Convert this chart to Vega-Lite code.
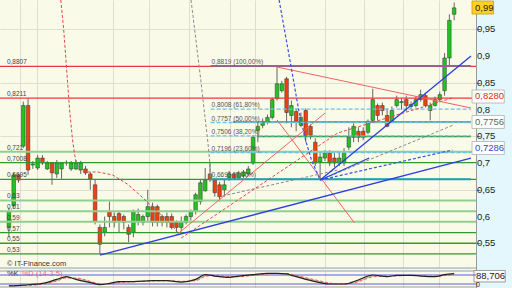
{
 "$schema": "https://vega.github.io/schema/vega-lite/v6.json",
 "width": 476, "height": 288,
 "autosize": {"type": "none"},
 "padding": {"left": 0, "top": 0, "right": 36, "bottom": 0},
 "background": "#e4f7fd",
 "config": {"view": {"fill": "#fafae8", "stroke": null}, "font": "Liberation Sans", "text": {"font": "Liberation Sans"}},
 "datasets": {
  "candles": [
   {"t":0,"o":0.5796,"h":0.6167,"l":0.561,"c":0.6093},
   {"t":1,"o":0.6204,"h":0.6815,"l":0.6167,"c":0.6778},
   {"t":2,"o":0.6778,"h":0.68,"l":0.663,"c":0.668},
   {"t":3,"o":0.7315,"h":0.8148,"l":0.7278,"c":0.8074},
   {"t":4,"o":0.8074,"h":0.8204,"l":0.6778,"c":0.687},
   {"t":5,"o":0.6963,"h":0.7037,"l":0.6889,"c":0.6981},
   {"t":6,"o":0.6907,"h":0.7148,"l":0.687,"c":0.7093},
   {"t":7,"o":0.7093,"h":0.7148,"l":0.6963,"c":0.70},
   {"t":8,"o":0.6889,"h":0.7037,"l":0.687,"c":0.70},
   {"t":9,"o":0.70,"h":0.7019,"l":0.6593,"c":0.6815},
   {"t":10,"o":0.6796,"h":0.7056,"l":0.6722,"c":0.70},
   {"t":11,"o":0.6889,"h":0.7019,"l":0.6704,"c":0.70},
   {"t":12,"o":0.70,"h":0.705,"l":0.695,"c":0.701},
   {"t":13,"o":0.6889,"h":0.7037,"l":0.6852,"c":0.70},
   {"t":14,"o":0.6889,"h":0.7056,"l":0.687,"c":0.70},
   {"t":15,"o":0.687,"h":0.704,"l":0.6796,"c":0.70},
   {"t":16,"o":0.6889,"h":0.6944,"l":0.6778,"c":0.6815},
   {"t":17,"o":0.6796,"h":0.6833,"l":0.65,"c":0.6704},
   {"t":18,"o":0.6593,"h":0.6685,"l":0.5852,"c":0.5907},
   {"t":19,"o":0.5796,"h":0.5852,"l":0.5296,"c":0.5481},
   {"t":20,"o":0.5704,"h":0.60,"l":0.563,"c":0.5796},
   {"t":21,"o":0.6093,"h":0.6278,"l":0.5796,"c":0.60},
   {"t":22,"o":0.60,"h":0.6074,"l":0.5796,"c":0.5889},
   {"t":23,"o":0.6056,"h":0.6093,"l":0.5704,"c":0.5926},
   {"t":24,"o":0.60,"h":0.6037,"l":0.5759,"c":0.5889},
   {"t":25,"o":0.5796,"h":0.5852,"l":0.5519,"c":0.5667},
   {"t":26,"o":0.5704,"h":0.613,"l":0.5611,"c":0.6093},
   {"t":27,"o":0.5907,"h":0.6148,"l":0.5833,"c":0.6037},
   {"t":28,"o":0.5889,"h":0.6037,"l":0.5833,"c":0.60},
   {"t":29,"o":0.60,"h":0.65,"l":0.5907,"c":0.6185},
   {"t":30,"o":0.6185,"h":0.6259,"l":0.5815,"c":0.5889},
   {"t":31,"o":0.6185,"h":0.6222,"l":0.5815,"c":0.5889},
   {"t":32,"o":0.60,"h":0.6037,"l":0.5815,"c":0.5889},
   {"t":33,"o":0.60,"h":0.6074,"l":0.5796,"c":0.5889},
   {"t":34,"o":0.60,"h":0.6056,"l":0.5759,"c":0.5796},
   {"t":35,"o":0.5889,"h":0.5926,"l":0.5704,"c":0.5796},
   {"t":36,"o":0.5796,"h":0.60,"l":0.5722,"c":0.5889},
   {"t":37,"o":0.5889,"h":0.6037,"l":0.5852,"c":0.60},
   {"t":38,"o":0.60,"h":0.613,"l":0.5926,"c":0.6093},
   {"t":39,"o":0.6093,"h":0.6444,"l":0.6037,"c":0.6407},
   {"t":40,"o":0.6278,"h":0.6685,"l":0.6222,"c":0.663},
   {"t":41,"o":0.6481,"h":0.6907,"l":0.6463,"c":0.6685},
   {"t":42,"o":0.6796,"h":0.70,"l":0.6648,"c":0.6685},
   {"t":43,"o":0.6685,"h":0.6722,"l":0.637,"c":0.6444},
   {"t":44,"o":0.6593,"h":0.6648,"l":0.6278,"c":0.637},
   {"t":45,"o":0.65,"h":0.6685,"l":0.637,"c":0.6593},
   {"t":46,"o":0.6722,"h":0.6852,"l":0.6667,"c":0.6796},
   {"t":47,"o":0.6796,"h":0.6833,"l":0.6685,"c":0.6722},
   {"t":48,"o":0.6722,"h":0.6852,"l":0.6704,"c":0.6815},
   {"t":49,"o":0.6759,"h":0.687,"l":0.6722,"c":0.6833},
   {"t":50,"o":0.6796,"h":0.6944,"l":0.6759,"c":0.6889},
   {"t":51,"o":0.70,"h":0.7519,"l":0.6963,"c":0.7481},
   {"t":52,"o":0.7611,"h":0.7759,"l":0.7389,"c":0.7685},
   {"t":53,"o":0.7704,"h":0.7833,"l":0.7648,"c":0.7778},
   {"t":54,"o":0.7759,"h":0.7907,"l":0.7722,"c":0.7852},
   {"t":55,"o":0.7852,"h":0.8222,"l":0.7815,"c":0.8185},
   {"t":56,"o":0.8204,"h":0.8819,"l":0.8167,"c":0.8481},
   {"t":57,"o":0.8352,"h":0.8537,"l":0.8315,"c":0.8481},
   {"t":58,"o":0.8574,"h":0.8611,"l":0.7741,"c":0.7944},
   {"t":59,"o":0.7889,"h":0.8167,"l":0.7667,"c":0.8074},
   {"t":60,"o":0.7963,"h":0.8019,"l":0.7593,"c":0.7778},
   {"t":61,"o":0.7704,"h":0.7944,"l":0.7667,"c":0.7852},
   {"t":62,"o":0.7981,"h":0.8019,"l":0.7389,"c":0.75},
   {"t":63,"o":0.7685,"h":0.7722,"l":0.7444,"c":0.7519},
   {"t":64,"o":0.7389,"h":0.7463,"l":0.6944,"c":0.70},
   {"t":65,"o":0.7019,"h":0.7185,"l":0.6695,"c":0.7111},
   {"t":66,"o":0.7093,"h":0.7241,"l":0.7037,"c":0.7185},
   {"t":67,"o":0.7185,"h":0.7241,"l":0.6944,"c":0.70},
   {"t":68,"o":0.7093,"h":0.7185,"l":0.6926,"c":0.70},
   {"t":69,"o":0.70,"h":0.7204,"l":0.6944,"c":0.7093},
   {"t":70,"o":0.70,"h":0.7278,"l":0.6944,"c":0.7185},
   {"t":71,"o":0.7296,"h":0.7667,"l":0.7241,"c":0.7481},
   {"t":72,"o":0.7481,"h":0.7741,"l":0.7389,"c":0.7685},
   {"t":73,"o":0.7593,"h":0.7667,"l":0.7389,"c":0.7481},
   {"t":74,"o":0.7593,"h":0.7667,"l":0.7426,"c":0.7481},
   {"t":75,"o":0.7574,"h":0.7815,"l":0.7537,"c":0.7778},
   {"t":76,"o":0.7796,"h":0.8389,"l":0.7759,"c":0.8185},
   {"t":77,"o":0.8074,"h":0.8111,"l":0.7796,"c":0.7889},
   {"t":78,"o":0.8074,"h":0.813,"l":0.7889,"c":0.7981},
   {"t":79,"o":0.7889,"h":0.8019,"l":0.7667,"c":0.7685},
   {"t":80,"o":0.7778,"h":0.8056,"l":0.7759,"c":0.7981},
   {"t":81,"o":0.8074,"h":0.8259,"l":0.8037,"c":0.8185},
   {"t":82,"o":0.813,"h":0.8204,"l":0.80,"c":0.8148},
   {"t":83,"o":0.8185,"h":0.8259,"l":0.7963,"c":0.8074},
   {"t":84,"o":0.8056,"h":0.815,"l":0.80,"c":0.8093},
   {"t":85,"o":0.8074,"h":0.8241,"l":0.8037,"c":0.8185},
   {"t":86,"o":0.8185,"h":0.837,"l":0.8148,"c":0.8278},
   {"t":87,"o":0.8259,"h":0.8315,"l":0.8037,"c":0.8074},
   {"t":88,"o":0.7981,"h":0.813,"l":0.7796,"c":0.8074},
   {"t":89,"o":0.8074,"h":0.8241,"l":0.8056,"c":0.8185},
   {"t":90,"o":0.8185,"h":0.8333,"l":0.8148,"c":0.8278},
   {"t":91,"o":0.8352,"h":0.9056,"l":0.8259,"c":0.8963},
   {"t":92,"o":0.8963,"h":0.9778,"l":0.8815,"c":0.9667},
   {"t":93,"o":0.978,"h":1.0,"l":0.9667,"c":0.99}
  ],
  "blueSolid": [
   {"id":1,"t":19.02,"v":0.528},{"id":1,"t":96.52,"v":0.7093},
   {"id":2,"t":65.03,"v":0.6682},{"id":2,"t":96.52,"v":0.90},
   {"id":3,"t":65.03,"v":0.6682},{"id":3,"t":75.26,"v":0.7093}
  ],
  "blueDash": [
   {"id":4,"t":65.03,"v":0.6682},{"id":4,"t":92.64,"v":0.7243},
   {"id":13,"t":56.44,"v":1.0047},{"id":13,"t":58.69,"v":0.8925},{"id":13,"t":60.53,"v":0.7991},{"id":13,"t":61.96,"v":0.743},{"id":13,"t":63.19,"v":0.7056},{"id":13,"t":65.03,"v":0.6682}
  ],
  "grayDash": [
   {"id":5,"t":65.03,"v":0.6682},{"id":5,"t":92.84,"v":0.771},
   {"id":6,"t":44.58,"v":0.6383},{"id":6,"t":68.71,"v":0.6869},
   {"id":12,"t":38.04,"v":1.0047},{"id":12,"t":39.06,"v":0.9299},{"id":12,"t":40.08,"v":0.8551},{"id":12,"t":40.9,"v":0.7897},{"id":12,"t":41.51,"v":0.743},{"id":12,"t":41.92,"v":0.7056},{"id":12,"t":42.13,"v":0.6682}
  ],
  "redSolid": [
   {"id":7,"t":56.03,"v":0.8794},{"id":7,"t":96.52,"v":0.8028},
   {"id":8,"t":34.97,"v":0.5654},{"id":8,"t":66.05,"v":0.7934},
   {"id":9,"t":56.03,"v":0.7804},{"id":9,"t":72.19,"v":0.5879}
  ],
  "redDash": [
   {"id":10,"t":35.99,"v":0.5598},{"id":10,"t":68.71,"v":0.7561},{"id":10,"t":92.64,"v":0.8215},
   {"id":11,"t":10.84,"v":1.0047},{"id":11,"t":11.45,"v":0.9486},{"id":11,"t":12.07,"v":0.8738},{"id":11,"t":12.68,"v":0.7991},{"id":11,"t":13.29,"v":0.743},{"id":11,"t":13.91,"v":0.7056},{"id":11,"t":14.72,"v":0.6869},{"id":11,"t":15.95,"v":0.6832},{"id":11,"t":18.61,"v":0.6832},{"id":11,"t":21.68,"v":0.6776},{"id":11,"t":24.74,"v":0.6607},{"id":11,"t":27.81,"v":0.6364},{"id":11,"t":30.88,"v":0.6103},{"id":11,"t":33.33,"v":0.5916},{"id":11,"t":35.17,"v":0.571}
  ],
  "hRed": [{"v":0.8807},{"v":0.8211}],
  "hGreenDark": [{"v":0.7008},{"v":0.6695},{"v":0.57},{"v":0.55},{"v":0.53}],
  "hGreenLight": [{"v":0.721},{"v":0.63},{"v":0.61},{"v":0.59}],
  "hGreenPart": [{"t":46.83,"t2":96.52,"v":0.7766},{"t":51.94,"t2":96.52,"v":0.7495}],
  "fibBlue": [{"t":42.13,"t2":96.52,"v":0.8819}],
  "fibDash": [{"t":42.13,"t2":96.52,"v":0.8008},{"t":42.13,"t2":96.52,"v":0.7757},{"t":42.13,"t2":96.52,"v":0.7506},{"t":42.13,"t2":96.52,"v":0.7196}],
  "fibTeal": [{"t":42.13,"t2":96.52,"v":0.6695}],
  "axisLabels": [
   {"t":97.75,"v":0.95,"label":"0,95"},{"t":97.75,"v":0.9,"label":"0,9"},
   {"t":97.75,"v":0.85,"label":"0,85"},{"t":97.75,"v":0.8,"label":"0,8"},
   {"t":97.75,"v":0.75,"label":"0,75"},{"t":97.75,"v":0.7,"label":"0,7"},
   {"t":97.75,"v":0.65,"label":"0,65"},{"t":97.75,"v":0.6,"label":"0,6"},
   {"t":97.75,"v":0.55,"label":"0,55"}
  ],
  "leftLabels": [
   {"t":-0.41,"v":0.8807,"label":"0,8807"},{"t":-0.41,"v":0.8211,"label":"0,8211"},
   {"t":-0.41,"v":0.721,"label":"0,721"},{"t":-0.41,"v":0.7008,"label":"0,7008"},
   {"t":-0.41,"v":0.6695,"label":"0,6695"},{"t":-0.41,"v":0.63,"label":"0,63"},
   {"t":-0.41,"v":0.61,"label":"0,61"},{"t":-0.41,"v":0.59,"label":"0,59"},
   {"t":-0.41,"v":0.57,"label":"0,57"},{"t":-0.41,"v":0.55,"label":"0,55"},
   {"t":-0.41,"v":0.53,"label":"0,53"}
  ],
  "fibLabels": [
   {"t":42.33,"v":0.8819,"label":"0,8819 (100,00%)"},
   {"t":42.33,"v":0.8008,"label":"0,8008 (61,80%)"},
   {"t":42.33,"v":0.7757,"label":"0,7757 (50,00%)"},
   {"t":42.33,"v":0.7506,"label":"0,7506 (38,20%)"},
   {"t":42.33,"v":0.7196,"label":"0,7196 (23,60%)"},
   {"t":42.33,"v":0.6695,"label":"0,6695 (0,00%)"}
  ],
  "gap": [{"t":-0.818,"t2":96.52,"v":0.5037,"v2":0.4981}],
  "borders": [{"v":0.5037},{"v":0.4981},{"v":0.4682}],
  "stoch": [
   {"t":0,"k":7,"d":10},{"t":3,"k":13,"d":10},{"t":7,"k":24,"d":18},{"t":10,"k":51,"d":40},
   {"t":12,"k":69,"d":60},{"t":14,"k":51,"d":60},{"t":17,"k":29,"d":38},{"t":19,"k":16,"d":22},
   {"t":21,"k":24,"d":20},{"t":23,"k":36,"d":30},{"t":26,"k":36,"d":35},{"t":30,"k":42,"d":40},
   {"t":33,"k":42,"d":42},{"t":36,"k":33,"d":38},{"t":39,"k":51,"d":42},{"t":41,"k":82,"d":70},
   {"t":43,"k":73,"d":78},{"t":46,"k":64,"d":70},{"t":48,"k":73,"d":68},{"t":51,"k":82,"d":78},
   {"t":54,"k":91,"d":87},{"t":56,"k":91,"d":90},{"t":58,"k":87,"d":90},{"t":59,"k":78,"d":85},
   {"t":62,"k":51,"d":62},{"t":65,"k":29,"d":40},{"t":67,"k":20,"d":26},{"t":70,"k":20,"d":20},
   {"t":73,"k":47,"d":35},{"t":76,"k":80,"d":68},{"t":79,"k":69,"d":74},{"t":81,"k":78,"d":74},
   {"t":84,"k":78,"d":78},{"t":86,"k":73,"d":76},{"t":89,"k":69,"d":72},{"t":91,"k":82,"d":76},
   {"t":93,"k":89,"d":85}
  ],
  "stochLevels": [{"k":20},{"k":80}]
 },
 "layer": [
  {
   "layer": [
    {
     "data": {"name": "candles"},
     "mark": {"type": "rule", "color": "#666666", "strokeWidth": 1},
     "encoding": {
      "x": {"field": "t", "type": "quantitative", "title": null,
            "scale": {"domain": [-0.818, 96.52], "nice": false, "zero": false},
            "axis": {"orient": "bottom", "labels": false, "ticks": false, "domain": false, "grid": true,
                     "gridColor": "#dedfd2", "gridWidth": 1,
                     "values": [2.25,3.27,5.93,14.11,21.68,22.7,29.24,30.27,37.63,42.13,46.22,50.1,51.33,58.08,66.05,68.1,74.23,78.32,82.41,86.71,89.78,91.21]}},
      "y": {"field": "l", "type": "quantitative", "title": null,
            "scale": {"domain": [0.46636, 1.00467], "nice": false, "zero": false},
            "axis": {"orient": "right", "values": [0.55,0.6,0.65,0.7,0.75,0.8,0.85,0.9,0.95],
                     "labels": false,
                     "grid": true, "gridColor": "#dedfd2", "domain": true, "domainColor": "#9a9a9a",
                     "ticks": true, "tickSize": 4, "tickColor": "#777777"}},
      "y2": {"field": "h"}
     }
    },
    {
     "data": {"name": "candles"},
     "mark": {"type": "bar", "width": 3.6, "stroke": "#333333", "strokeWidth": 0.5},
     "encoding": {
      "x": {"field": "t", "type": "quantitative", "title": null},
      "y": {"field": "o", "type": "quantitative", "title": null},
      "y2": {"field": "c"},
      "color": {"condition": {"test": "datum.c >= datum.o", "value": "#22c322"}, "value": "#f0400e"}
     }
    },
    {
     "data": {"name": "gap"},
     "mark": {"type": "rect", "color": "#e4f7fd"},
     "encoding": {
      "x": {"field": "t", "type": "quantitative", "title": null}, "x2": {"field": "t2"},
      "y": {"field": "v", "type": "quantitative", "title": null}, "y2": {"field": "v2"}
     }
    },
    {
     "data": {"name": "borders"},
     "mark": {"type": "rule", "color": "#a0a0a0", "strokeWidth": 1},
     "encoding": {"y": {"field": "v", "type": "quantitative", "title": null}}
    },
    {
     "data": {"name": "hGreenLight"},
     "mark": {"type": "rule", "color": "#8fd08f", "strokeWidth": 2},
     "encoding": {"y": {"field": "v", "type": "quantitative", "title": null}}
    },
    {
     "data": {"name": "hGreenDark"},
     "mark": {"type": "rule", "color": "#2f9a2f", "strokeWidth": 1.3},
     "encoding": {"y": {"field": "v", "type": "quantitative", "title": null}}
    },
    {
     "data": {"name": "hGreenPart"},
     "mark": {"type": "rule", "color": "#3a9a3a", "strokeWidth": 1.5},
     "encoding": {
      "x": {"field": "t", "type": "quantitative", "title": null}, "x2": {"field": "t2"},
      "y": {"field": "v", "type": "quantitative", "title": null}
     }
    },
    {
     "data": {"name": "hRed"},
     "mark": {"type": "rule", "color": "#e83a3a", "strokeWidth": 1.3},
     "encoding": {"y": {"field": "v", "type": "quantitative", "title": null}}
    },
    {
     "data": {"name": "fibTeal"},
     "mark": {"type": "rule", "color": "#1e9fb5", "strokeWidth": 2},
     "encoding": {
      "x": {"field": "t", "type": "quantitative", "title": null}, "x2": {"field": "t2"},
      "y": {"field": "v", "type": "quantitative", "title": null}
     }
    },
    {
     "data": {"name": "fibDash"},
     "mark": {"type": "rule", "color": "#66c4ee", "strokeWidth": 1.3, "strokeDash": [4, 2]},
     "encoding": {
      "x": {"field": "t", "type": "quantitative", "title": null}, "x2": {"field": "t2"},
      "y": {"field": "v", "type": "quantitative", "title": null}
     }
    },
    {
     "data": {"name": "fibBlue"},
     "mark": {"type": "rule", "color": "#4a80d8", "strokeWidth": 1.5},
     "encoding": {
      "x": {"field": "t", "type": "quantitative", "title": null}, "x2": {"field": "t2"},
      "y": {"field": "v", "type": "quantitative", "title": null}
     }
    },
    {
     "data": {"name": "grayDash"},
     "mark": {"type": "line", "color": "#8a8a8a", "strokeWidth": 1, "strokeDash": [3, 2], "clip": true},
     "encoding": {
      "x": {"field": "t", "type": "quantitative", "title": null},
      "y": {"field": "v", "type": "quantitative", "title": null},
      "detail": {"field": "id", "type": "nominal"}
     }
    },
    {
     "data": {"name": "redDash"},
     "mark": {"type": "line", "color": "#e04848", "strokeWidth": 1, "strokeDash": [3, 2], "clip": true},
     "encoding": {
      "x": {"field": "t", "type": "quantitative", "title": null},
      "y": {"field": "v", "type": "quantitative", "title": null},
      "detail": {"field": "id", "type": "nominal"}
     }
    },
    {
     "data": {"name": "redSolid"},
     "mark": {"type": "line", "color": "#f06262", "strokeWidth": 1},
     "encoding": {
      "x": {"field": "t", "type": "quantitative", "title": null},
      "y": {"field": "v", "type": "quantitative", "title": null},
      "detail": {"field": "id", "type": "nominal"}
     }
    },
    {
     "data": {"name": "blueDash"},
     "mark": {"type": "line", "color": "#3a52e0", "strokeWidth": 1.2, "strokeDash": [3, 2], "clip": true},
     "encoding": {
      "x": {"field": "t", "type": "quantitative", "title": null},
      "y": {"field": "v", "type": "quantitative", "title": null},
      "detail": {"field": "id", "type": "nominal"}
     }
    },
    {
     "data": {"name": "blueSolid"},
     "mark": {"type": "line", "color": "#2c3ee0", "strokeWidth": 1.3},
     "encoding": {
      "x": {"field": "t", "type": "quantitative", "title": null},
      "y": {"field": "v", "type": "quantitative", "title": null},
      "detail": {"field": "id", "type": "nominal"}
     }
    },
    {
     "data": {"name": "axisLabels"},
     "mark": {"type": "text", "align": "left", "baseline": "middle", "fontSize": 9.5, "color": "#222222"},
     "encoding": {
      "x": {"field": "t", "type": "quantitative", "title": null},
      "y": {"field": "v", "type": "quantitative", "title": null},
      "text": {"field": "label"}
     }
    },
    {
     "data": {"name": "leftLabels"},
     "mark": {"type": "text", "align": "left", "baseline": "bottom", "dy": -1, "fontSize": 6.5, "color": "#444444"},
     "encoding": {
      "x": {"field": "t", "type": "quantitative", "title": null},
      "y": {"field": "v", "type": "quantitative", "title": null},
      "text": {"field": "label"}
     }
    },
    {
     "data": {"name": "fibLabels"},
     "mark": {"type": "text", "align": "left", "baseline": "bottom", "dy": -1, "fontSize": 6.5, "color": "#555555"},
     "encoding": {
      "x": {"field": "t", "type": "quantitative", "title": null},
      "y": {"field": "v", "type": "quantitative", "title": null},
      "text": {"field": "label"}
     }
    },
    {
     "data": {"values": [
      {"t":96.73,"t2":101.23,"v":1.0028,"v2":0.9785}
     ]},
     "mark": {"type": "rect", "fill": "#ffd21f", "stroke": "#c8a000", "strokeWidth": 0.8},
     "encoding": {
      "x": {"field": "t", "type": "quantitative", "title": null}, "x2": {"field": "t2"},
      "y": {"field": "v", "type": "quantitative", "title": null}, "y2": {"field": "v2"}
     }
    },
    {
     "data": {"values": [
      {"t":96.73,"t2":103.48,"v":0.8364,"v2":0.8121},
      {"t":96.73,"t2":103.48,"v":0.7888,"v2":0.7645},
      {"t":96.73,"t2":103.48,"v":0.7402,"v2":0.7159}
     ]},
     "mark": {"type": "rect", "fill": "#ffffff", "stroke": "#b0b0b0", "strokeWidth": 0.8},
     "encoding": {
      "x": {"field": "t", "type": "quantitative", "title": null}, "x2": {"field": "t2"},
      "y": {"field": "v", "type": "quantitative", "title": null}, "y2": {"field": "v2"}
     }
    },
    {
     "data": {"values": [
      {"t":97.14,"t2":103.68,"v":0.4991,"v2":0.4776}
     ]},
     "mark": {"type": "rect", "fill": "#fafafa", "stroke": "#888888", "strokeWidth": 0.8},
     "encoding": {
      "x": {"field": "t", "type": "quantitative", "title": null}, "x2": {"field": "t2"},
      "y": {"field": "v", "type": "quantitative", "title": null}, "y2": {"field": "v2"}
     }
    },
    {
     "data": {"values": [{"t":97.35,"v":0.9905,"label":"0,99"}]},
     "mark": {"type": "text", "align": "left", "baseline": "middle", "fontSize": 9.5, "color": "#222222"},
     "encoding": {"x": {"field": "t", "type": "quantitative", "title": null}, "y": {"field": "v", "type": "quantitative", "title": null}, "text": {"field": "label"}}
    },
    {
     "data": {"values": [{"t":97.35,"v":0.8243,"label":"0,8280"}]},
     "mark": {"type": "text", "align": "left", "baseline": "middle", "fontSize": 9.5, "color": "#e02828"},
     "encoding": {"x": {"field": "t", "type": "quantitative", "title": null}, "y": {"field": "v", "type": "quantitative", "title": null}, "text": {"field": "label"}}
    },
    {
     "data": {"values": [{"t":97.35,"v":0.7766,"label":"0,7756"}]},
     "mark": {"type": "text", "align": "left", "baseline": "middle", "fontSize": 9.5, "color": "#666666"},
     "encoding": {"x": {"field": "t", "type": "quantitative", "title": null}, "y": {"field": "v", "type": "quantitative", "title": null}, "text": {"field": "label"}}
    },
    {
     "data": {"values": [{"t":97.35,"v":0.728,"label":"0,7286"}]},
     "mark": {"type": "text", "align": "left", "baseline": "middle", "fontSize": 9.5, "color": "#2a4ad0"},
     "encoding": {"x": {"field": "t", "type": "quantitative", "title": null}, "y": {"field": "v", "type": "quantitative", "title": null}, "text": {"field": "label"}}
    },
    {
     "data": {"values": [{"t":97.55,"v":0.4884,"label":"88,706"}]},
     "mark": {"type": "text", "align": "left", "baseline": "middle", "fontSize": 9.5, "color": "#222222"},
     "encoding": {"x": {"field": "t", "type": "quantitative", "title": null}, "y": {"field": "v", "type": "quantitative", "title": null}, "text": {"field": "label"}}
    },
    {
     "data": {"values": [{"t":97.55,"v":0.4728,"label":"0"}]},
     "mark": {"type": "text", "align": "left", "baseline": "middle", "fontSize": 7, "color": "#222222"},
     "encoding": {"x": {"field": "t", "type": "quantitative", "title": null}, "y": {"field": "v", "type": "quantitative", "title": null}, "text": {"field": "label"}}
    },
    {
     "data": {"values": [{"t":-0.41,"v":0.5112,"label":"© IT-Finance.com"},{"t":-0.41,"v":0.4925,"label":"%K"}]},
     "mark": {"type": "text", "align": "left", "baseline": "middle", "fontSize": 7.5, "color": "#333333"},
     "encoding": {"x": {"field": "t", "type": "quantitative", "title": null}, "y": {"field": "v", "type": "quantitative", "title": null}, "text": {"field": "label"}}
    },
    {
     "data": {"values": [{"t":2.66,"v":0.4925,"label":"%D (14-3-5)"}]},
     "mark": {"type": "text", "align": "left", "baseline": "middle", "fontSize": 7.5, "color": "#ff6a6a"},
     "encoding": {"x": {"field": "t", "type": "quantitative", "title": null}, "y": {"field": "v", "type": "quantitative", "title": null}, "text": {"field": "label"}}
    }
   ]
  },
  {
   "layer": [
    {
     "data": {"name": "stochLevels"},
     "mark": {"type": "rule", "color": "#5a5ae6", "strokeWidth": 1},
     "encoding": {"y": {"field": "k", "type": "quantitative", "title": null,
                  "scale": {"domain": [0, 106.7], "range": [287, 271], "nice": false, "zero": false}, "axis": null}}
    },
    {
     "data": {"name": "stoch"},
     "mark": {"type": "area", "color": "#9a9a9a", "opacity": 0.6, "interpolate": "monotone"},
     "encoding": {
      "x": {"field": "t", "type": "quantitative", "title": null},
      "y": {"field": "k", "type": "quantitative", "title": null},
      "y2": {"field": "d"}
     }
    },
    {
     "data": {"name": "stoch"},
     "mark": {"type": "line", "color": "#ff5a5a", "strokeWidth": 1, "strokeDash": [3, 2], "interpolate": "monotone"},
     "encoding": {
      "x": {"field": "t", "type": "quantitative", "title": null},
      "y": {"field": "d", "type": "quantitative", "title": null}
     }
    },
    {
     "data": {"name": "stoch"},
     "mark": {"type": "line", "color": "#222222", "strokeWidth": 1.2, "interpolate": "monotone"},
     "encoding": {
      "x": {"field": "t", "type": "quantitative", "title": null},
      "y": {"field": "k", "type": "quantitative", "title": null}
     }
    }
   ]
  }
 ],
 "resolve": {"scale": {"y": "independent"}}
}
